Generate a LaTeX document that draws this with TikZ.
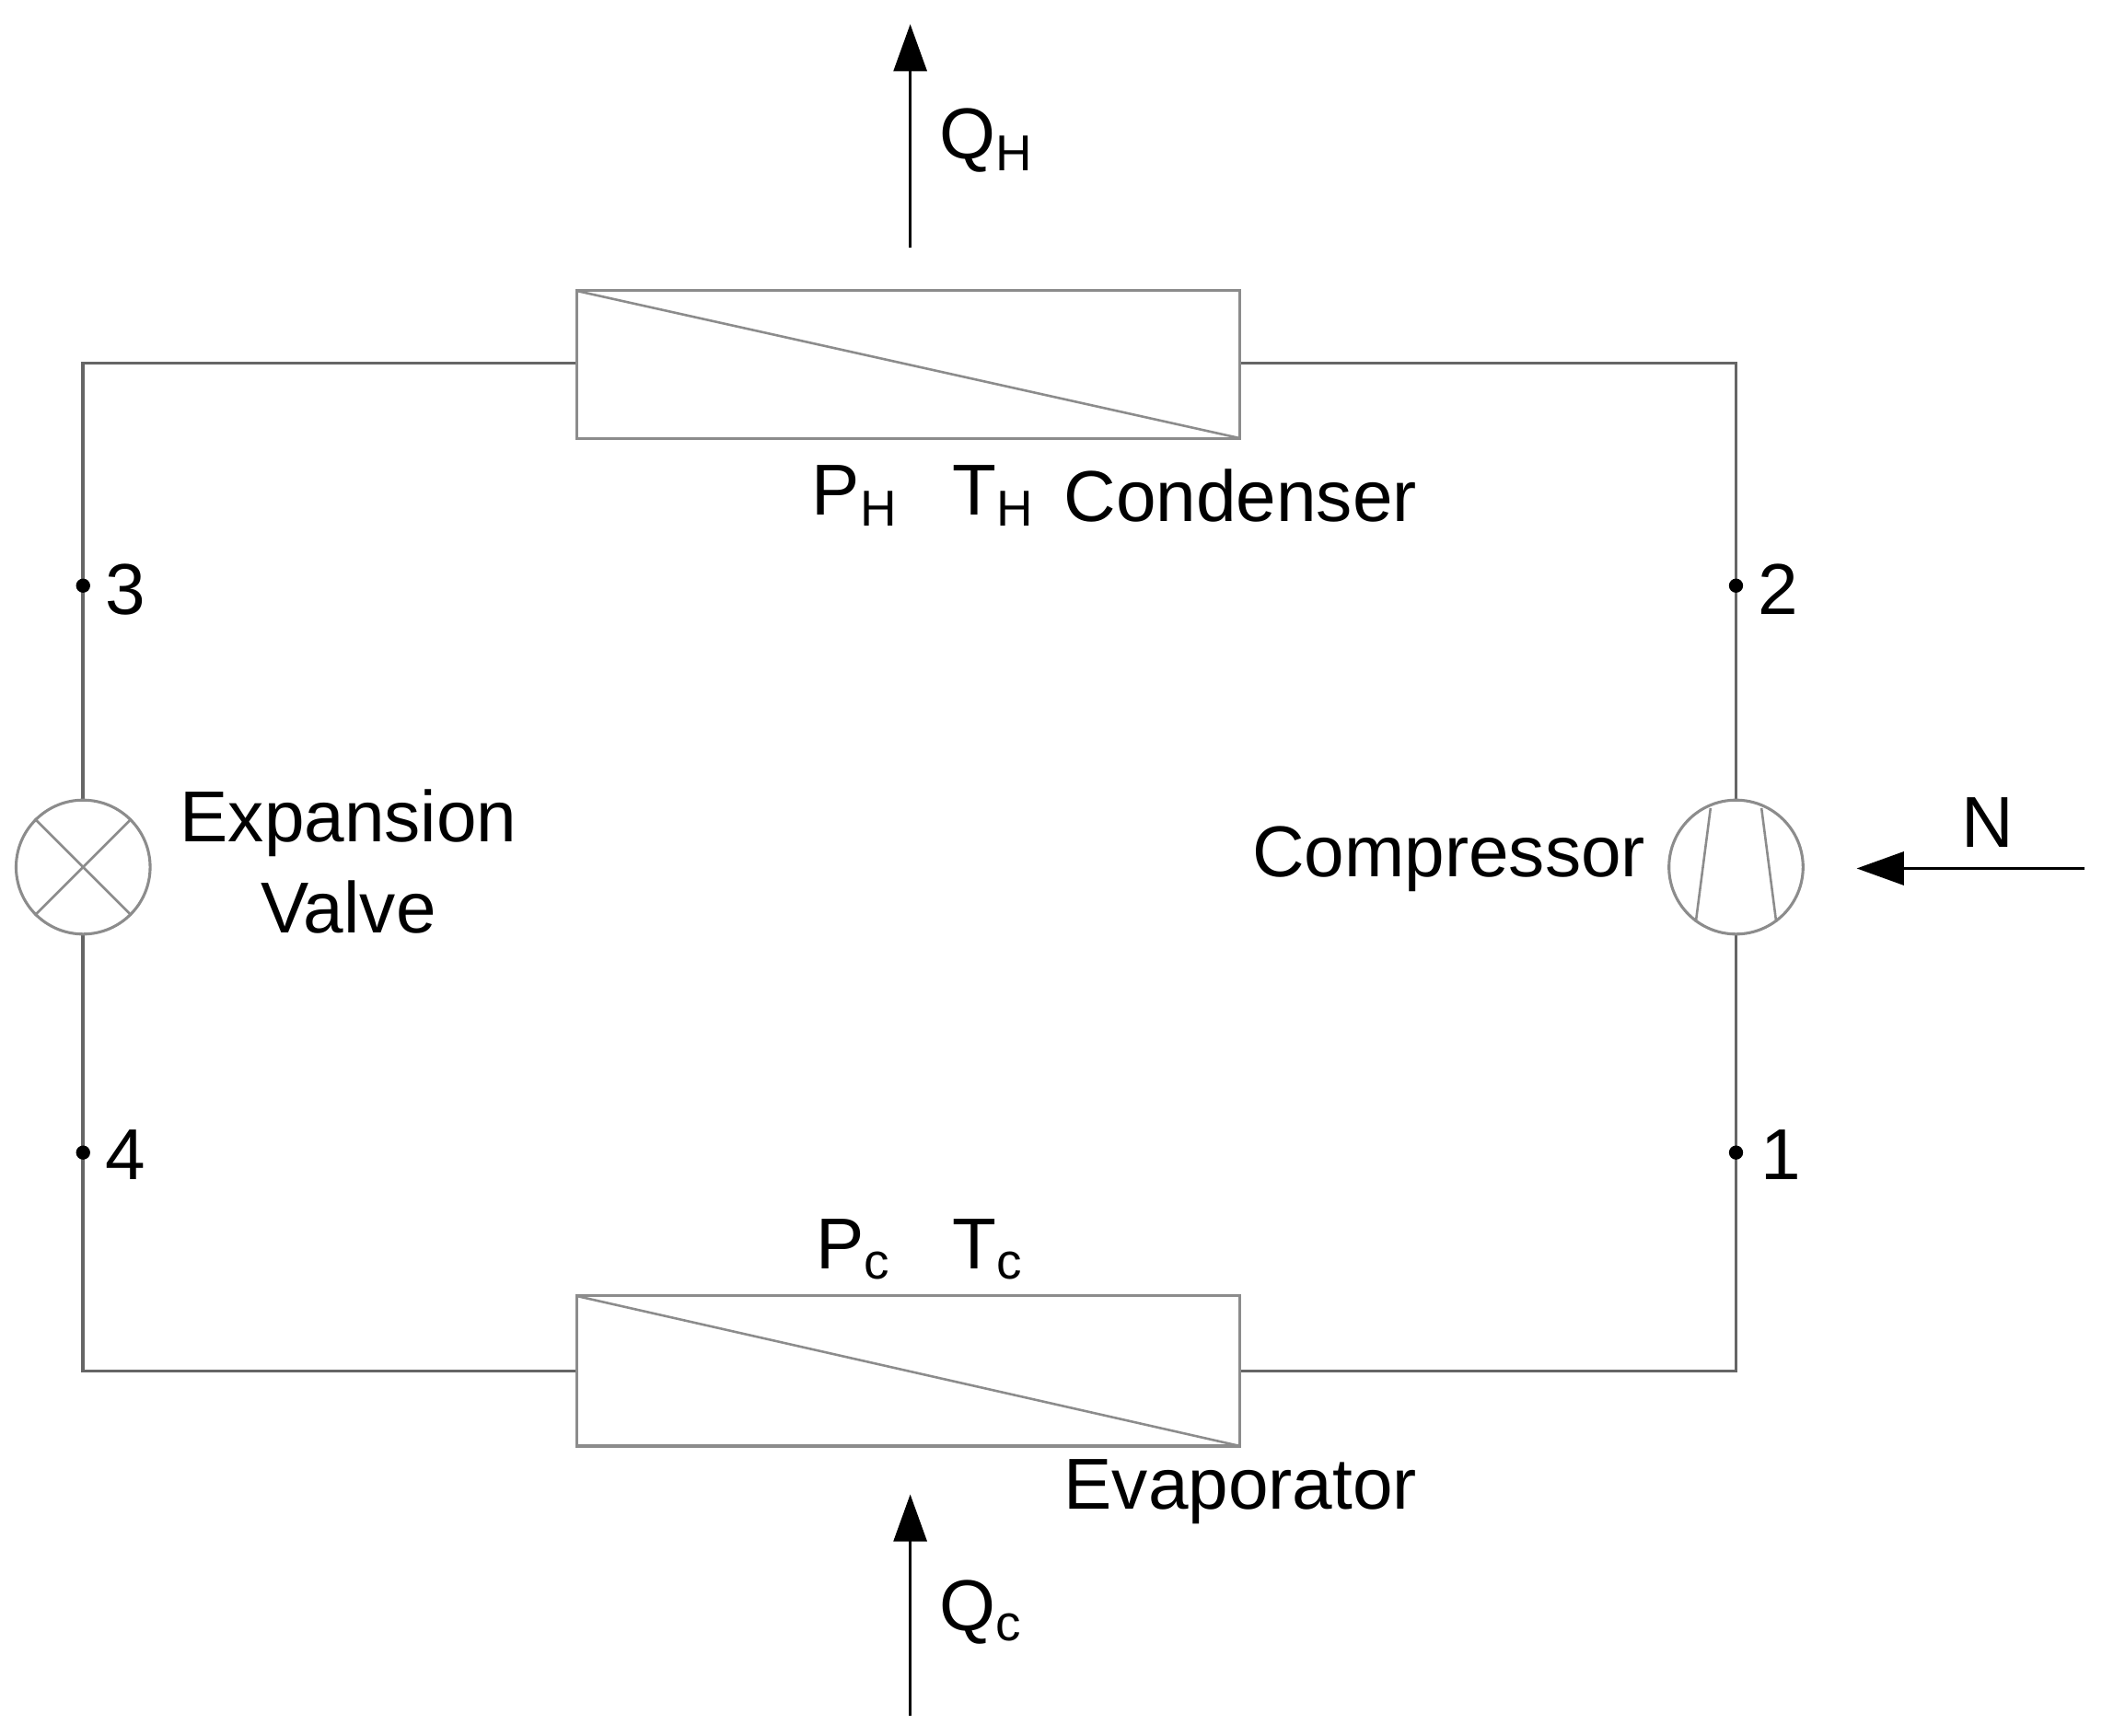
\documentclass[tikz,border=0pt]{standalone}
\usepackage{fontspec}
\setmainfont{Liberation Sans}
\usetikzlibrary{arrows.meta}
\begin{document}
\begin{tikzpicture}[x=0.01cm,y=-0.01cm,
  pipe/.style={draw=black!60,line width=0.7pt},
  comp/.style={draw=black!45,line width=0.6pt,fill=white},
  flow/.style={draw=black,line width=0.7pt,-{Triangle[length=10pt,width=7pt]}},
  lbl/.style={font=\fontsize{15.3}{17}\selectfont,inner sep=0pt},
  dot/.style={circle,fill=black,inner sep=0pt,minimum size=3pt}]
\useasboundingbox (0,0) rectangle (1568,1295);
% pipes
\coordinate (tl) at (62,271); \coordinate (tr) at (1295,271);
\coordinate (bl) at (62,1023); \coordinate (br) at (1295,1023);
\draw[pipe] (430,271) -- (tl) -- (bl) -- (430,1023);
\draw[pipe] (925,271) -- (tr) -- (br) -- (925,1023);
% condenser
\draw[comp] (430,217) rectangle (925,327);
\draw[draw=black!45,line width=0.5pt] (430,217) -- (925,327);
% evaporator
\draw[comp] (430,967) rectangle (925,1079);
\draw[draw=black!45,line width=0.5pt] (430,967) -- (925,1079);
% expansion valve
\node[comp,circle,minimum size=100*0.01cm,inner sep=0pt] (ev) at (62,647) {};
\draw[draw=black!45,line width=0.5pt] (ev.north west) -- (ev.south east) (ev.north east) -- (ev.south west);
% compressor
\node[comp,circle,minimum size=100*0.01cm,inner sep=0pt] (cp) at (1295,647) {};
\draw[draw=black!45,line width=0.5pt] (1276,603) -- (1265,688) (1314,603) -- (1325,688);
% dots
\node[dot] (p3) at (62,437) {}; \node[lbl,anchor=west] at (78,440) {3};
\node[dot] (p2) at (1295,437) {}; \node[lbl,anchor=west] at (1311,440) {2};
\node[dot] (p4) at (62,860) {}; \node[lbl,anchor=west] at (78,862) {4};
\node[dot] (p1) at (1295,860) {}; \node[lbl,anchor=west] at (1313,862) {1};
% arrows
\coordinate (qh0) at (679,185); \coordinate (qh1) at (679,18);
\draw[flow] (qh0) -- (qh1);
\coordinate (qc0) at (679,1280); \coordinate (qc1) at (679,1115);
\draw[flow] (qc0) -- (qc1);
\coordinate (n0) at (1555,648); \coordinate (n1) at (1385,648);
\draw[flow] (n0) -- (n1);
% labels
\node[lbl,anchor=west] at (700,105) {Q\textsubscript{H}};
\node[lbl,anchor=west] at (700,1203) {Q\textsubscript{c}};
\node[lbl] at (1483,614) {N};
\node[lbl,anchor=west] at (605,370) {P\textsubscript{H}};
\node[lbl,anchor=west] at (710,370) {T\textsubscript{H}};
\node[lbl,anchor=west] at (793,370) {Condenser};
\node[lbl,anchor=west] at (608,932) {P\textsubscript{c}};
\node[lbl,anchor=west] at (710,932) {T\textsubscript{c}};
\node[lbl,anchor=west] at (793,1113) {Evaporator};
\node[lbl,anchor=east] at (1228,641) {Compressor};
\node[lbl] at (260,614) {Expansion};
\node[lbl] at (260,677) {Valve};
\end{tikzpicture}
\end{document}
